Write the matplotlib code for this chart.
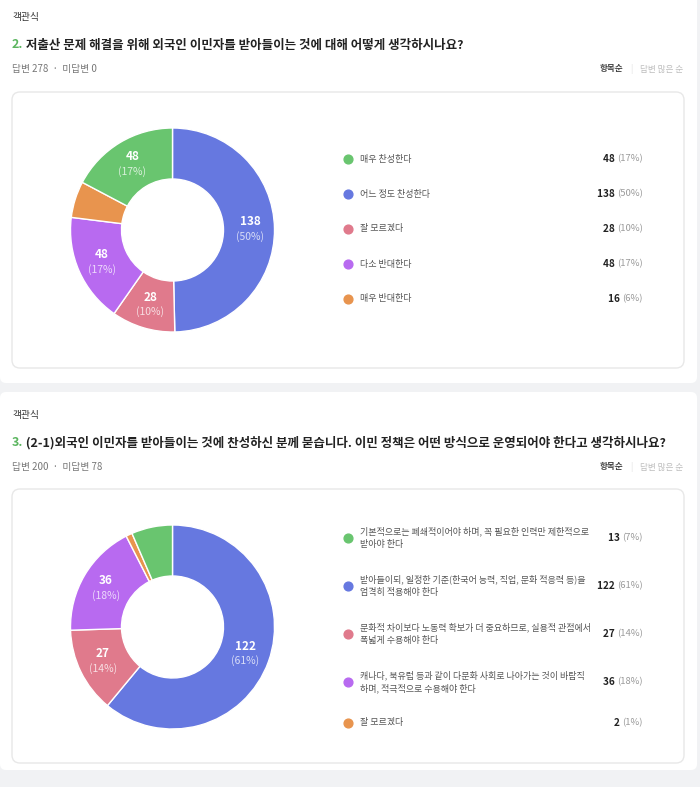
import numpy as np
import matplotlib
matplotlib.use("Agg")
import matplotlib.pyplot as plt
from matplotlib.patches import FancyBboxPatch

plt.rcParams['font.family'] = ['Noto Sans CJK KR', 'DejaVu Sans']

# question 2
q2_title = "저출산 문제 해결을 위해 외국인 이민자를 받아들이는 것에 대해 어떻게 생각하시나요?"
q2_sub = "답변 278  ·  미답변 0"
q2_labels = ["매우 찬성한다", "어느 정도 찬성한다", "잘 모르겠다", "다소 반대한다", "매우 반대한다"]
q2_counts = [48, 138, 28, 48, 16]
q2_pcts = [17, 50, 10, 17, 6]

# question 3
q3_title = "(2-1)외국인 이민자를 받아들이는 것에 찬성하신 분께 묻습니다. 이민 정책은 어떤 방식으로 운영되어야 한다고 생각하시나요?"
q3_sub = "답변 200  ·  미답변 78"
q3_labels = ["기본적으로는 폐쇄적이어야 하며, 꼭 필요한 인력만 제한적으로\n받아야 한다",
             "받아들이되, 일정한 기준(한국어 능력, 직업, 문화 적응력 등)을\n엄격히 적용해야 한다",
             "문화적 차이보다 노동력 확보가 더 중요하므로, 실용적 관점에서\n폭넓게 수용해야 한다",
             "캐나다, 북유럽 등과 같이 다문화 사회로 나아가는 것이 바람직\n하며, 적극적으로 수용해야 한다",
             "잘 모르겠다"]
q3_counts = [13, 122, 27, 36, 2]
q3_pcts = [7, 61, 14, 18, 1]

colors = ["#69c56f", "#6678e0", "#e07a8c", "#b86af0", "#e8944e"]
pie_order = [1, 2, 3, 4, 0]  # clockwise from top

W, H = 700, 787
fig = plt.figure(figsize=(W / 100, H / 100), dpi=100, facecolor="#f1f2f4")
ax = fig.add_axes([0, 0, 1, 1])
ax.set_xlim(0, W)
ax.set_ylim(H, 0)
ax.axis("off")


def rbox(x0, y0, x1, y1, fc, ec, r):
    ax.add_patch(FancyBboxPatch((x0, y0), x1 - x0, y1 - y0,
                                boxstyle=f"round,pad=0,rounding_size={r}",
                                fc=fc, ec=ec, lw=1))


def donut(cx, cy, counts, pcts):
    R = 102
    half = 110
    a = fig.add_axes([(cx - half) / W, (H - cy - half) / H, 2 * half / W, 2 * half / H])
    vals = [counts[i] for i in pie_order]
    cols = [colors[i] for i in pie_order]
    wedges, _ = a.pie(vals, colors=cols, startangle=90, counterclock=False,
                      radius=1, wedgeprops=dict(width=0.5, edgecolor="white", linewidth=1))
    a.set_xlim(-half / R, half / R)
    a.set_ylim(-half / R, half / R)
    a.axis("off")
    for w, i in zip(wedges, pie_order):
        if pcts[i] < 10:
            continue
        mid = np.deg2rad((w.theta1 + w.theta2) / 2)
        x, y = 0.76 * np.cos(mid), 0.76 * np.sin(mid)
        a.text(x, y + 0.07, str(counts[i]), color="white", fontsize=8.5,
               fontweight="bold", ha="center", va="center")
        a.text(x, y - 0.075, f"({pcts[i]}%)", color="white", alpha=0.75, fontsize=7.5,
               ha="center", va="center")


def legend(rows, labels, counts, pcts):
    for y, lab, c, p, col in zip(rows, labels, counts, pcts, colors):
        ax.scatter([348], [y], s=40, color=col, zorder=3)
        ax.text(360, y, lab, fontsize=6.5, color="#555555", va="center", ha="left",
                linespacing=1.5)
        t = ax.text(643, y, f"({p}%)", fontsize=6.8, color="#9a9a9a", va="center", ha="right")
        ax.annotate(f"{c} ", xycoords=t, xy=(0, 0.5), va="center", ha="right",
                    fontsize=7.2, fontweight="bold", color="#222222")


def header(y0, num, title, sub):
    ax.text(12, y0 + 17, "객관식", fontsize=7, color="#333333", va="center")
    t = ax.text(12, y0 + 45, f"{num}.", fontsize=9, color="#5bb55f", fontweight="bold",
                va="center")
    ax.annotate(" " + title, xycoords=t, xy=(1, 0.5), va="center", ha="left",
                fontsize=9, fontweight="bold", color="#222222")
    ax.text(12, y0 + 69, sub, fontsize=7, color="#777777", va="center")
    ax.text(683, y0 + 69, "답변 많은 순", fontsize=6.2, color="#bdbdbd", va="center", ha="right")
    ax.text(631, y0 + 69, "|", fontsize=6, color="#dddddd", va="center", ha="center")
    ax.text(623, y0 + 69, "항목순", fontsize=6.2, color="#444444", va="center", ha="right",
            fontweight="bold")


# cards
rbox(0, -10, 697, 383, "white", "none", 6)
rbox(0, 392, 697, 770, "white", "none", 6)
rbox(12, 92, 684, 368, "white", "#e8e8e8", 8)
rbox(12, 489, 684, 763, "white", "#e8e8e8", 8)

header(0, 2, q2_title, q2_sub)
header(398, 3, q3_title, q3_sub)

donut(172.5, 230, q2_counts, q2_pcts)
donut(172.5, 627, q3_counts, q3_pcts)

legend([159, 194, 229, 264, 299], q2_labels, q2_counts, q2_pcts)
legend([538, 586, 634, 682, 723], q3_labels, q3_counts, q3_pcts)

fig.savefig("out.png", dpi=100, facecolor=fig.get_facecolor())
